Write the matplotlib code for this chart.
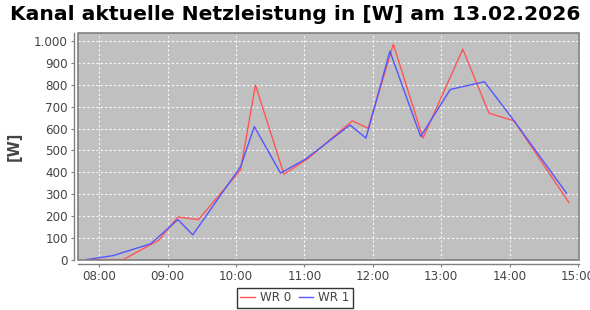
"""
Tagesverlauf der aktuellen Netzleistung zweier Wechselrichter (WR 0 / WR 1).
"""

import matplotlib
matplotlib.use('Agg')
import matplotlib.pyplot as plt
import matplotlib.dates as mdates
import matplotlib.ticker as mticker
from matplotlib.patches import Rectangle
import pandas as pd

DAY = '2026-02-13'
TITLE = 'Kanal aktuelle Netzleistung in [W] am 13.02.2026'

wr0_times = ['07:49', '08:21', '08:52', '09:09', '09:27', '10:04', '10:17',
             '10:42', '11:03', '11:42', '11:56', '12:18', '12:44', '13:19',
             '13:42', '14:04', '14:52']
wr0_watts = [0, 0, 88, 195, 183, 411, 799, 391, 462, 635, 601, 986, 556,
             963, 670, 635, 262]

wr1_times = ['07:49', '08:12', '08:45', '09:09', '09:22', '10:04', '10:16',
             '10:39', '11:01', '11:40', '11:54', '12:15', '12:42', '13:08',
             '13:38', '14:03', '14:50']
wr1_watts = [0, 18, 72, 183, 113, 426, 609, 396, 460, 616, 556, 954, 563,
             779, 814, 642, 304]

x_start, x_end = '07:41', '15:01'
y_ticks = list(range(0, 1001, 100))

RED = '#ff5555'
BLUE = '#5555ff'
TEXT = '#444444'
AXIS = '#808080'


def to_time(values):
    return pd.to_datetime([f'{DAY} {v}' for v in values])


def thousands(v, pos):
    return f'{int(v):,}'.replace(',', '.')


fig = plt.figure(figsize=(5.9, 3.1), dpi=100)
ax = fig.add_axes([0.1317, 0.1613, 0.8497, 0.7313])
ax.set_facecolor('#c0c0c0')

ax.plot(to_time(wr0_times), wr0_watts, color=RED, lw=1, label='WR 0', zorder=3)
ax.plot(to_time(wr1_times), wr1_watts, color=BLUE, lw=1, label='WR 1', zorder=3)

ax.set_xlim(to_time([x_start])[0], to_time([x_end])[0])
ax.set_ylim(-2, 1036)
ax.set_yticks(y_ticks)
ax.yaxis.set_major_formatter(mticker.FuncFormatter(thousands))
ax.xaxis.set_major_locator(mdates.HourLocator())
ax.xaxis.set_major_formatter(mdates.DateFormatter('%H:%M'))

ax.grid(True, color='white', ls=(0, (2, 2)), lw=0.8, alpha=0.9)
ax.set_axisbelow(True)

# axis lines sit a few pixels away from the plot box, like the original
for side in ('top', 'right'):
    ax.spines[side].set_visible(False)
for side in ('left', 'bottom'):
    ax.spines[side].set_position(('outward', 3))
    ax.spines[side].set_color(AXIS)
    ax.spines[side].set_linewidth(1)
ax.add_patch(Rectangle((0, 0), 1, 1, transform=ax.transAxes, fill=False,
                       ec=AXIS, lw=1.2, clip_on=False, zorder=4))

ax.tick_params(axis='both', colors=AXIS, labelcolor=TEXT, labelsize=8.6,
               length=2, width=0.8, pad=2)

ax.set_ylabel('[W]', color=TEXT, fontsize=10.5, fontweight='bold', labelpad=9)
fig.suptitle(TITLE, fontsize=14.6, fontweight='bold', y=0.985)

leg = fig.legend(loc='lower center', bbox_to_anchor=(0.5, -0.012), ncol=2,
                 frameon=True, fancybox=False, fontsize=8.6, handlelength=1.2,
                 handletextpad=0.4, columnspacing=0.7, borderpad=0.3,
                 labelcolor=TEXT)
leg.get_frame().set_edgecolor('black')
leg.get_frame().set_linewidth(1)

fig.savefig('out.png', dpi=100)
